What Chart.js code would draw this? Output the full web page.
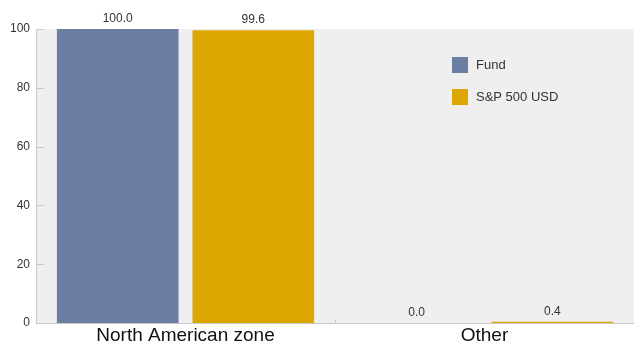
<!DOCTYPE html>
<html>
<head>
<meta charset="utf-8">
<script src="https://cdn.jsdelivr.net/npm/chart.js@4.4.1/dist/chart.umd.min.js"></script>
<style>
  html, body { margin: 0; padding: 0; background: #fff; }
  #chart { display: block; }
</style>
</head>
<body>
<canvas id="chart" width="634" height="342"></canvas>
<script>
const categories = ['North American zone', 'Other'];
const fundValues = [100.0, 0.0];
const sp500Values = [99.6, 0.4];
const seriesNames = ['Fund', 'S&P 500 USD'];
const seriesColors = ['#6a7ea4', '#dea600'];
const yTicks = [0, 20, 40, 60, 80, 100];

const FONT = "'Liberation Sans', Arial, sans-serif";

const plotBackground = {
    id: 'plotBackground',
    beforeDraw(chart) {
        const { ctx, chartArea } = chart;
        ctx.save();
        ctx.fillStyle = '#efefef';
        ctx.fillRect(chartArea.left, chartArea.top, chart.width - chartArea.left, chartArea.bottom - chartArea.top);
        ctx.restore();
    }
};

const axisTicks = {
    id: 'axisTicks',
    afterDatasetsDraw(chart) {
        const { ctx, chartArea, scales } = chart;
        ctx.save();
        ctx.strokeStyle = '#c8c8c8';
        ctx.lineWidth = 1;
        yTicks.forEach(v => {
            const y = Math.round(scales.y.getPixelForValue(v)) + 0.5;
            ctx.beginPath();
            ctx.moveTo(chartArea.left, y);
            ctx.lineTo(chartArea.left + 8, y);
            ctx.stroke();
        });
        for (let i = 0; i < categories.length - 1; i++) {
            const x = Math.round((scales.x.getPixelForValue(i) + scales.x.getPixelForValue(i + 1)) / 2) + 0.5;
            ctx.beginPath();
            ctx.moveTo(x, chartArea.bottom);
            ctx.lineTo(x, chartArea.bottom - 3);
            ctx.stroke();
        }
        ctx.restore();
    }
};

const valueLabels = {
    id: 'valueLabels',
    afterDatasetsDraw(chart) {
        const { ctx } = chart;
        ctx.save();
        ctx.font = '12px ' + FONT;
        ctx.fillStyle = '#333';
        ctx.textAlign = 'center';
        ctx.textBaseline = 'bottom';
        chart.data.datasets.forEach((ds, di) => {
            chart.getDatasetMeta(di).data.forEach((bar, i) => {
                ctx.fillText(ds.data[i].toFixed(1), bar.x, bar.y - 4);
            });
        });
        ctx.restore();
    }
};

const insideLegend = {
    id: 'insideLegend',
    afterDraw(chart) {
        const { ctx, chartArea } = chart;
        ctx.save();
        ctx.font = '13px ' + FONT;
        ctx.textBaseline = 'middle';
        ctx.textAlign = 'left';
        chart.data.datasets.forEach((ds, i) => {
            const x = chartArea.left + 416;
            const y = chartArea.top + 28 + i * 32;
            ctx.fillStyle = ds.backgroundColor;
            ctx.fillRect(x, y, 16, 16);
            ctx.fillStyle = '#333';
            ctx.fillText(ds.label, x + 24, y + 8.5);
        });
        ctx.restore();
    }
};

new Chart(document.getElementById('chart'), {
    type: 'bar',
    data: {
        labels: categories,
        datasets: [
            { label: seriesNames[0], data: fundValues, backgroundColor: seriesColors[0] },
            { label: seriesNames[1], data: sp500Values, backgroundColor: seriesColors[1] }
        ]
    },
    options: {
        responsive: false,
        animation: false,
        layout: { padding: { top: 29, right: 0, bottom: 0, left: 0 } },
        datasets: {
            bar: { categoryPercentage: 0.907, barPercentage: 0.897 }
        },
        plugins: {
            legend: { display: false },
            tooltip: { enabled: false }
        },
        scales: {
            x: {
                grid: { display: false, drawTicks: false },
                border: { display: true, color: '#c8c8c8' },
                ticks: { color: '#111', font: { family: FONT, size: 19 }, padding: 1 },
                afterFit(scale) { scale.height = 19; }
            },
            y: {
                min: 0,
                max: 100,
                ticks: { stepSize: 20, color: '#333', font: { family: FONT, size: 12 }, padding: 6 },
                grid: { display: false, drawTicks: false },
                border: { display: true, color: '#c8c8c8' },
                afterFit(scale) { scale.width = 36; }
            }
        }
    },
    plugins: [plotBackground, axisTicks, valueLabels, insideLegend]
});
</script>
</body>
</html>
